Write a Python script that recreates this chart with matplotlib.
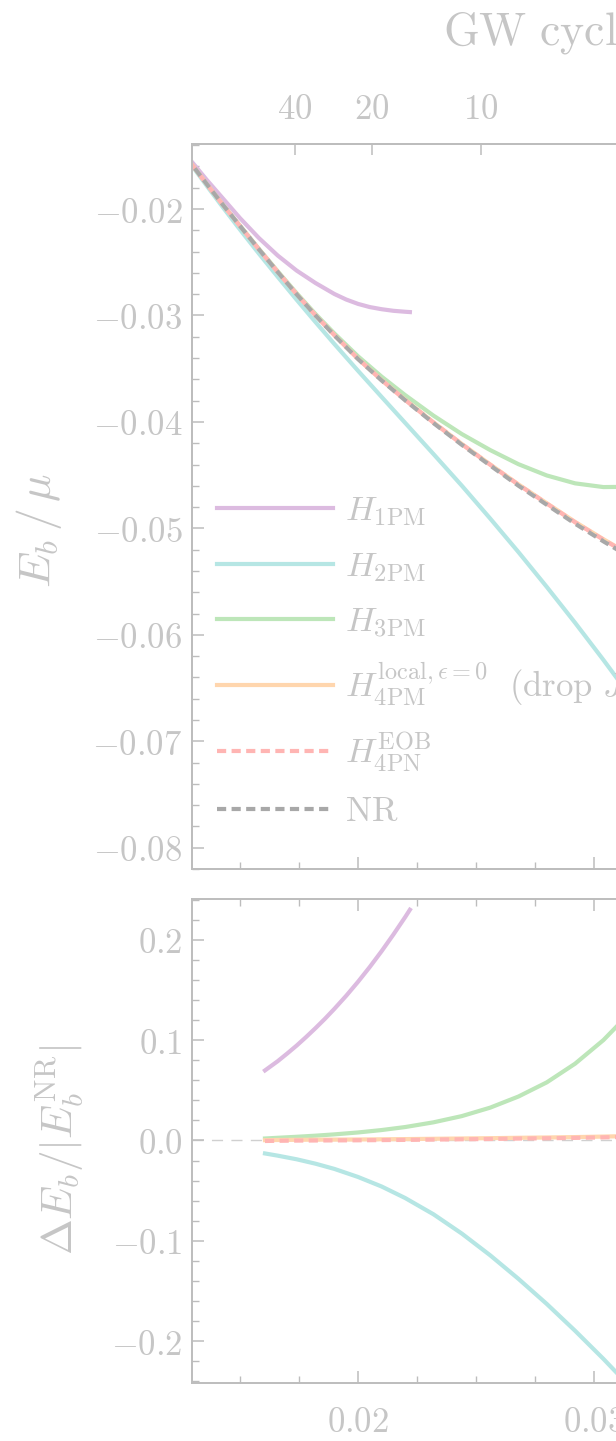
import numpy as np
import matplotlib
matplotlib.use("Agg")
import matplotlib.pyplot as plt
from matplotlib.ticker import MultipleLocator, FixedLocator, FuncFormatter
from matplotlib.legend_handler import HandlerLine2D

plt.rcParams['mathtext.fontset'] = 'cm'
plt.rcParams['font.family'] = ['DejaVu Serif']

# ---------------- data ----------------
# top panel: binding energy E_b/mu vs frequency
x_top = [0.0129, 0.0136, 0.0143, 0.0150, 0.0158, 0.0166, 0.0174, 0.0182, 0.0190, 0.0200,
         0.0210, 0.0220, 0.0232, 0.0244, 0.0256, 0.0268, 0.0280, 0.0292, 0.0304, 0.0316]
E_nr = [-0.01564, -0.01768, -0.01967, -0.02159, -0.02378, -0.02592, -0.02801, -0.03000, -0.03187, -0.03409,
        -0.03610, -0.03797, -0.04011, -0.04215, -0.04409, -0.04599, -0.04778, -0.04956, -0.05122, -0.05280]
E_4pm = [-0.01564, -0.01768, -0.01967, -0.02159, -0.02377, -0.02591, -0.02799, -0.02998, -0.03184, -0.03406,
         -0.03606, -0.03792, -0.04004, -0.04207, -0.04399, -0.04587, -0.04764, -0.04939, -0.05102, -0.05256]
E_eob = [-0.01564, -0.01768, -0.01967, -0.02159, -0.02378, -0.02592, -0.02800, -0.02999, -0.03185, -0.03407,
         -0.03607, -0.03794, -0.04006, -0.04209, -0.04402, -0.04590, -0.04767, -0.04943, -0.05106, -0.05261]
E_2pm = [-0.01573, -0.01784, -0.01991, -0.02193, -0.02418, -0.02637, -0.02852, -0.03062, -0.03268, -0.03519,
         -0.03765, -0.04009, -0.04302, -0.04599, -0.04907, -0.05223, -0.05550, -0.05887, -0.06236, -0.06596]
E_3pm = [-0.01564, -0.01767, -0.01965, -0.02156, -0.02374, -0.02585, -0.02790, -0.02986, -0.03169, -0.03383,
         -0.03574, -0.03748, -0.03941, -0.04114, -0.04264, -0.04397, -0.04503, -0.04577, -0.04612, -0.04609]
x_1pm_top = [0.0129, 0.0136, 0.0143, 0.0150, 0.0158, 0.0166, 0.0174, 0.0182, 0.0190, 0.0195,
             0.0200, 0.0205, 0.0210, 0.0215, 0.0220, 0.0222]
E_1pm = [-0.01540, -0.01728, -0.01906, -0.02085, -0.02272, -0.02437, -0.02578, -0.02695, -0.02798, -0.02850,
         -0.02891, -0.02921, -0.02941, -0.02956, -0.02965, -0.02968]

# bottom panel: relative difference to NR
x_bot = [0.01606, 0.0166, 0.0174, 0.0182, 0.0190, 0.0200, 0.0210, 0.0220,
         0.0232, 0.0244, 0.0256, 0.0268, 0.0280, 0.0292, 0.0304, 0.0316]
d_2pm = [-0.0129, -0.0151, -0.0187, -0.0231, -0.0283, -0.0363, -0.0458, -0.0573,
         -0.0735, -0.0927, -0.1143, -0.1378, -0.1628, -0.1895, -0.2175, -0.2470]
d_3pm = [0.0020, 0.0027, 0.0037, 0.0048, 0.0061, 0.0080, 0.0104, 0.0134,
         0.0181, 0.0243, 0.0327, 0.0438, 0.0579, 0.0765, 0.1000, 0.1290]
d_4pm = [0.0003, 0.0005, 0.0007, 0.0008, 0.0009, 0.0010, 0.0012, 0.0014,
         0.0017, 0.0020, 0.0023, 0.0027, 0.0030, 0.0034, 0.0039, 0.0045]
d_eob = [-0.0005, -0.0003, -0.0001, 0.0000, 0.0001, 0.0002, 0.0004, 0.0006,
         0.0009, 0.0012, 0.0015, 0.0019, 0.0022, 0.0026, 0.0031, 0.0037]
x_1pm_bot = [0.01606, 0.0166, 0.0170, 0.0174, 0.0178, 0.0182, 0.0186, 0.0190, 0.0195,
             0.0200, 0.0205, 0.0210, 0.0215, 0.0220, 0.0222]
d_1pm = [0.0698, 0.0790, 0.0866, 0.0945, 0.1030, 0.1119, 0.1212, 0.1311, 0.1441,
         0.1580, 0.1728, 0.1885, 0.2051, 0.2225, 0.2298]

# top axis: GW cycles to merger
gw_x = [0.01733, 0.02059, 0.02521]
gw_labels = ['40', '20', '10']

labels = [r'$H_{\mathrm{1PM}}$', r'$H_{\mathrm{2PM}}$', r'$H_{\mathrm{3PM}}$',
          r'$H_{\mathrm{4PM}}^{\mathrm{local},\epsilon=0}\ \ \mathrm{(drop}\ J\ \mathrm{terms)}$',
          r'$H_{\mathrm{4PN}}^{\mathrm{EOB}}$', r'$\mathrm{NR}$']

# ---------------- style ----------------
C1 = '#dcbbe0'
C2 = '#b6e6e4'
C3 = '#bde6b9'
C4 = '#ffd6ae'
C5 = '#ffb5b3'
C6 = '#a8a8a8'
TXT = '#c6c6c6'
SPN = '#bdbdbd'
LW = 3.0
DASH = (2.2, 1.3)

W, H = 616, 1441
fig = plt.figure(figsize=(W / 100, H / 100), dpi=100)

left = 192.3 / W
right_px = 912
width = (right_px - 192.3) / W
ax1 = fig.add_axes([left, (H - 869) / H, width, (869 - 144) / H])
ax2 = fig.add_axes([left, (H - 1383) / H, width, (1383 - 899) / H])

xlim = (0.01298, 0.02 + (right_px - 358) / 23600)

# top panel curves
l1, = ax1.plot(x_1pm_top, E_1pm, color=C1, lw=LW)
l2, = ax1.plot(x_top, E_2pm, color=C2, lw=LW)
l3, = ax1.plot(x_top, E_3pm, color=C3, lw=LW)
l4, = ax1.plot(x_top, E_4pm, color=C4, lw=LW)
l5, = ax1.plot(x_top, E_eob, color=C5, lw=LW, dashes=DASH)
l6, = ax1.plot(x_top, E_nr, color=C6, lw=LW)
l6.set_linestyle((1.75, DASH))

# bottom panel curves
ax2.axhline(0.0, color='#d0d0d0', lw=1.0, dashes=(8, 6), zorder=0)
ax2.plot(x_1pm_bot, d_1pm, color=C1, lw=LW)
ax2.plot(x_bot, d_2pm, color=C2, lw=LW)
ax2.plot(x_bot, d_3pm, color=C3, lw=LW)
ax2.plot(x_bot, d_4pm, color=C4, lw=LW)
ax2.plot(x_bot, d_eob, color=C5, lw=LW, dashes=DASH)

fmt2 = FuncFormatter(lambda v, p: '$%.2f$' % v)
fmt1 = FuncFormatter(lambda v, p: '$%.1f$' % v)

for ax in (ax1, ax2):
    ax.set_xlim(*xlim)
    for s in ax.spines.values():
        s.set_color(SPN)
        s.set_linewidth(1.4)
    ax.xaxis.set_major_locator(MultipleLocator(0.01))
    ax.xaxis.set_minor_locator(MultipleLocator(0.0025))
    ax.tick_params(which='major', direction='in', length=8.6, width=1.1, color=SPN,
                   labelcolor=TXT, labelsize=25)
    ax.tick_params(which='minor', direction='in', length=5.0, width=1.0, color=SPN)
    ax.tick_params(axis='y', which='both', right=False, pad=7)

ax1.set_ylim(-0.0820, -0.01389)
ax1.yaxis.set_major_locator(MultipleLocator(0.01))
ax1.yaxis.set_minor_locator(MultipleLocator(0.002))
ax1.yaxis.set_major_formatter(fmt2)
ax1.tick_params(axis='x', which='both', top=False, labelbottom=False)

ax2.set_ylim(-0.2415, 0.2405)
ax2.yaxis.set_major_locator(MultipleLocator(0.1))
ax2.yaxis.set_minor_locator(MultipleLocator(0.02))
ax2.yaxis.set_major_formatter(fmt1)
ax2.xaxis.set_major_formatter(fmt2)
ax2.tick_params(axis='x', which='both', top=True, pad=16)

# top axis with GW cycles
axt = ax1.twiny()
axt.set_xlim(*xlim)
axt.xaxis.set_major_locator(FixedLocator(gw_x))
axt.set_xticklabels(['$%s$' % s for s in gw_labels])
axt.xaxis.set_minor_locator(FixedLocator([]))
axt.tick_params(axis='x', which='major', direction='in', length=8.0, width=1.1, color=SPN,
                labelcolor=TXT, labelsize=25, pad=13, top=True, bottom=False)
for s in axt.spines.values():
    s.set_color(SPN)
    s.set_linewidth(1.4)

fig.text(443 / W, (H - 45) / H, r'$\mathrm{GW\ cycles}$', fontsize=33, color=TXT,
         ha='left', va='baseline')

ax1.set_ylabel(r'$E_b\,/\,\mu$', fontsize=33, color=TXT, va='center')
ax1.yaxis.set_label_coords((39 - 192.3) / (right_px - 192.3), (869 - 530) / 725)
ax2.set_ylabel(r'$\Delta E_b/|E_b^{\mathrm{NR}}|$', fontsize=31, color=TXT, va='center')
ax2.yaxis.set_label_coords((60 - 192.3) / (right_px - 192.3), (1383 - 1150) / 484)


def _plain_dash(legline, orig):
    legline.update_from(orig)
    legline.set_linestyle((0, DASH))


leg = ax1.legend([l1, l2, l3, l4, l5, l6], labels, loc='upper left',
                 bbox_to_anchor=((217 - 192.3) / (right_px - 192.3), (869 - 493) / 725),
                 frameon=False, fontsize=25, handlelength=3.35, handletextpad=0.35,
                 labelspacing=0.6, borderpad=0, borderaxespad=0, labelcolor=TXT,
                 handler_map={l6: HandlerLine2D(update_func=_plain_dash)})

fig.savefig('out.png', dpi=100)
